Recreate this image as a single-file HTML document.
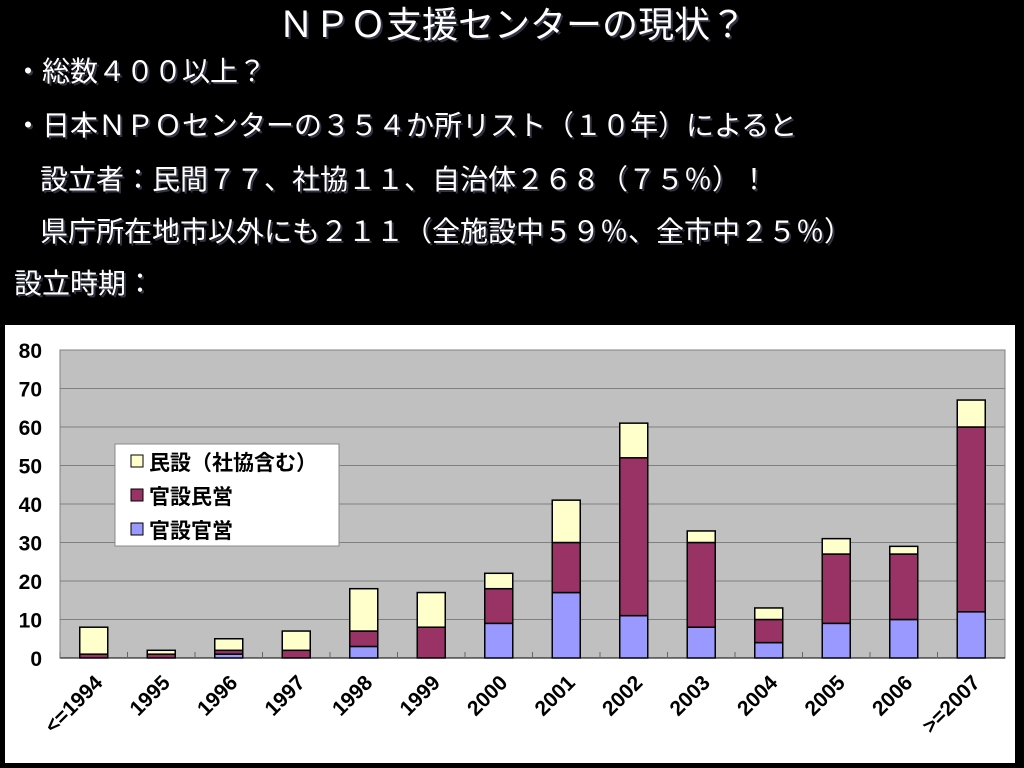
<!DOCTYPE html>
<html><head><meta charset="utf-8"><style>
body{margin:0;width:1024px;height:768px;background:#000;overflow:hidden;position:relative;font-family:"Liberation Sans","Noto Sans CJK JP",sans-serif;}
.t{position:absolute;color:#fff;white-space:nowrap;text-shadow:2px 2px 0 #334;}
#title{left:0;width:1024px;text-align:center;top:-4px;font-size:36px;}
.b{font-size:28px;left:14px;}
#panel{position:absolute;left:5px;top:325px;width:1010px;height:438px;background:#fff;}
svg text{font-family:"Liberation Sans","Noto Sans CJK JP",sans-serif;font-weight:bold;}
</style></head><body>
<div class="t" id="title">ＮＰＯ支援センターの現状？</div>
<div class="t b" style="top:50px">・総数４００以上？</div>
<div class="t b" style="top:104px">・日本ＮＰＯセンターの３５４か所リスト（１０年）によると</div>
<div class="t b" style="top:158px;left:40px">設立者：民間７７、社協１１、自治体２６８（７５％）！</div>
<div class="t b" style="top:210px;left:40px">県庁所在地市以外にも２１１（全施設中５９％、全市中２５％）</div>
<div class="t b" style="top:262px">設立時期：</div>
<div id="panel"></div>
<svg id="chart" width="1024" height="768" style="position:absolute;left:0;top:0"></svg>
<script>
const categories=["<=1994","1995","1996","1997","1998","1999","2000","2001","2002","2003","2004","2005","2006",">=2007"];
const kanKan=[0,0,1,0,3,0,9,17,11,8,4,9,10,12];
const kanMin=[1,1,1,2,4,8,9,13,41,22,6,18,17,48];
const minSetsu=[7,1,3,5,11,9,4,11,9,3,3,4,2,7];
const yTicks=[0,10,20,30,40,50,60,70,80];
const seriesNames=["民設（社協含む）","官設民営","官設官営"];
const NS="http://www.w3.org/2000/svg";
const svg=document.getElementById('chart');
const L=60,R=1005,T=350,B=658,yMax=80;
const bw=(R-L)/categories.length;
const y=v=>B-(v/yMax)*(B-T);
const xc=i=>L+bw*(i+0.5);
function mk(tag,attrs){const e=document.createElementNS(NS,tag);for(const k in attrs)e.setAttribute(k,attrs[k]);svg.appendChild(e);return e;}
let e=mk('rect',{x:L,y:T,width:R-L,height:B-T,fill:'#c0c0c0',stroke:'#808080'});


yTicks.forEach(t=>{
  let g=mk('line',{x1:L,x2:R,y1:y(t),y2:y(t),stroke:'#808080'});
  
  
  let tx=mk('text',{x:42,y:y(t)+8,'text-anchor':'end','font-size':'21'});tx.textContent=t;
  
  
});
mk('line',{x1:L,x2:R,y1:B,y2:B,stroke:'#000'});
categories.forEach((c,i)=>{
  let tk=mk('line',{x1:L+bw*i,x2:L+bw*i,y1:B,y2:B-6,stroke:'#666'});
  
  
  const segs=[[kanKan[i],'#9999ff','bar-kansetsu-kanei'],[kanMin[i],'#993366','bar-kansetsu-minei'],[minSetsu[i],'#ffffcc','bar-minsetsu']];
  let base=0;
  segs.forEach(s=>{
    if(s[0]>0){
      let r=mk('rect',{x:xc(i)-14,y:y(base+s[0]),width:28,height:y(base)-y(base+s[0]),fill:s[1],stroke:'#000','stroke-width':1.5});
      
      
    }
    base+=s[0];
  });
  const ax=xc(i)+10, ay=B+26;
  let tx=mk('text',{x:ax,y:ay,'text-anchor':'end','font-size':'21',transform:`rotate(-45 ${ax} ${ay})`});
  tx.textContent=c;
  
  
});
let lg=mk('rect',{x:115,y:444,width:224,height:102,fill:'#fff',stroke:'#888'});


const lc=['#ffffcc','#993366','#9999ff'];
seriesNames.forEach((n,k)=>{
  let sw=mk('rect',{x:131,y:455+k*34,width:12,height:12,fill:lc[k],stroke:'#000'});
  
  
  let t=mk('text',{x:149,y:470+k*34,'font-size':'21'});t.textContent=n;
  
  
});
</script>
</body></html>
